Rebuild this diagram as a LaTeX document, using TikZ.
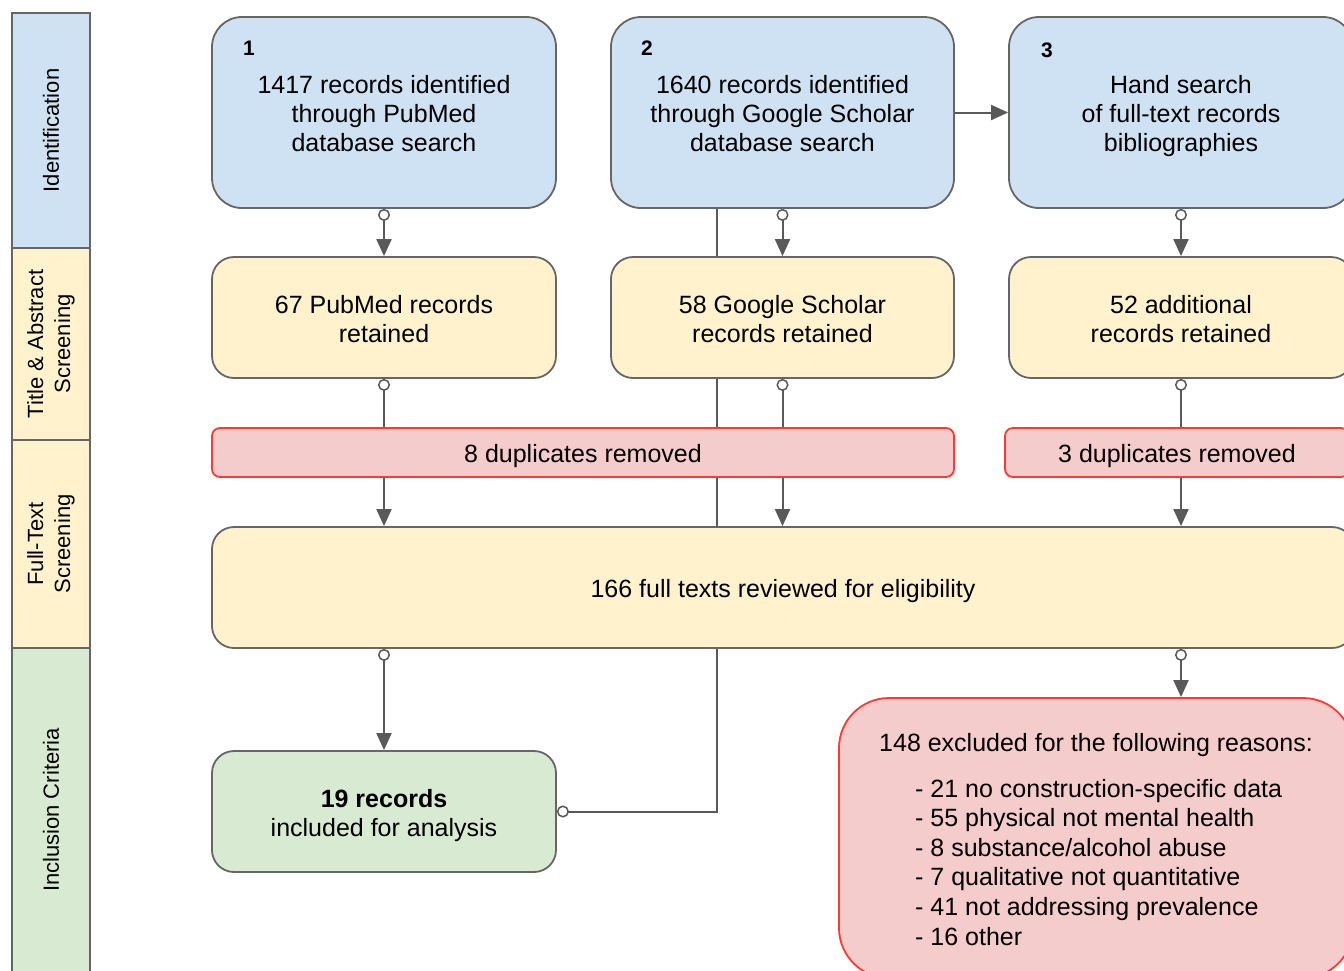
\documentclass[tikz,border=0pt]{standalone}
\usepackage{fontspec}
\setmainfont{Liberation Sans}
\usetikzlibrary{arrows.meta,backgrounds,calc}
\definecolor{cblue}{HTML}{CFE2F3}
\definecolor{cyel}{HTML}{FFF2CC}
\definecolor{cgreen}{HTML}{D9EAD3}
\definecolor{cred}{HTML}{F4CCCC}
\definecolor{credline}{HTML}{FF3B30}
\definecolor{cgray}{HTML}{666666}
\definecolor{cline}{HTML}{595959}
\newcommand{\boxtext}[2][c]{\smash{\raisebox{-10.5pt}{\begin{tabular}{@{}#1@{}}#2\end{tabular}}}}
\begin{document}
\begin{tikzpicture}[x=1pt,y=-1pt,
  box/.style={draw=cgray, line width=1.8pt, align=center, inner sep=0pt,
    font=\fontsize{25}{29}\selectfont, text=black},
  bluebox/.style={box, fill=cblue, rounded corners=30pt, minimum width=344pt, minimum height=191pt},
  yelbox/.style={box, fill=cyel, rounded corners=22pt, minimum width=344pt, minimum height=121pt},
  dupbox/.style={box, draw=credline, fill=cred, rounded corners=8pt, minimum height=49pt},
  num/.style={font=\bfseries\fontsize{21}{25}\selectfont, inner sep=0pt},
  side/.style={draw=cgray, line width=1.8pt, rotate=90, minimum height=78pt, align=center,
    inner sep=0pt, font=\fontsize{22}{27}\selectfont},
  conn/.style={draw=cline, line width=2pt,
    {Circle[open,length=12pt,width=12pt,line width=1.5pt,fill=white]}-{Triangle[length=17pt,width=15pt]}},
  arr/.style={draw=cline, line width=2pt, -{Triangle[length=17pt,width=15pt]}},
  link/.style={draw=cline, line width=2pt,
    {Circle[open,length=12pt,width=12pt,line width=1.5pt,fill=white]}-}
]
\clip (0,0) rectangle (1344,970);

% sidebar
\node[side, fill=cblue, minimum width=235pt] (s1) at (51,130.5) {Identification};
\node[side, fill=cyel, minimum width=192pt] (s2) at (51,344) {Title \& Abstract\\Screening};
\node[side, fill=cyel, minimum width=208pt] (s3) at (51,544) {Full-Text\\Screening};
\node[side, fill=cgreen, minimum width=324pt] (s4) at (51,810) {Inclusion Criteria};

% identification
\node[bluebox] (b1) at (384,112.5) {\boxtext{1417 records identified\\through PubMed\\database search}};
\node[bluebox, minimum width=343pt] (b2) at (782.5,112.5) {\boxtext{1640 records identified\\through Google Scholar\\database search}};
\node[bluebox] (b3) at (1181,112.5) {\boxtext{Hand search\\of full-text records\\bibliographies}};
\node[num] (n1) at (249,48) {1};
\node[num] (n2) at (647,48) {2};
\node[num] (n3) at (1047,50) {3};

% screening
\node[yelbox] (y1) at (384,317.5) {\boxtext{67 PubMed records\\retained}};
\node[yelbox, minimum width=343pt] (y2) at (782.5,317.5) {\boxtext{58 Google Scholar\\records retained}};
\node[yelbox] (y3) at (1181,317.5) {\boxtext{52 additional\\records retained}};

% duplicates
\node[dupbox, minimum width=742pt] (d1) at (583,452.5) {\boxtext{8 duplicates removed}};
\node[dupbox, minimum width=344pt] (d2) at (1177,452.5) {\boxtext{3 duplicates removed}};

% full text
\node[box, fill=cyel, rounded corners=22pt, minimum width=1142pt, minimum height=121pt] (ft) at (783,587.5) {\boxtext{166 full texts reviewed for eligibility}};

% inclusion
\node[box, fill=cgreen, rounded corners=22pt, minimum width=344pt, minimum height=121pt] (inc) at (384,811.5) {\boxtext{\textbf{19 records}\\included for analysis}};

% excluded
\node[box, draw=credline, fill=cred, rounded corners=50pt, minimum width=514pt, minimum height=280pt] (exc) at (1096,838)
{\fontsize{25}{29.6}\selectfont\boxtext[l]{148 excluded for the following reasons:\\[16pt]
\hspace*{36pt}- 21 no construction-specific data\\
\hspace*{36pt}- 55 physical not mental health\\
\hspace*{36pt}- 8 substance/alcohol abuse\\
\hspace*{36pt}- 7 qualitative not quantitative\\
\hspace*{36pt}- 41 not addressing prevalence\\
\hspace*{36pt}- 16 other}};

\coordinate (j) at (717,811.5);

\begin{pgfonlayer}{background}
\fill[white] (0,0) rectangle (1344,970);
\draw[conn] (b1.south) -- (y1.north);
\draw[conn] (b2.south) -- (y2.north);
\draw[conn] (b3.south) -- (y3.north);
\draw[arr] (b2.east) -- (b3.west);
\draw[conn] (y1.south) -- (y1.south |- ft.north);
\draw[conn] (y2.south) -- (y2.south |- ft.north);
\draw[conn] (y3.south) -- (y3.south |- ft.north);
\draw[conn] (ft.south -| inc.north) -- (inc.north);
\draw[conn] (ft.south -| y3.south) -- (y3.south |- exc.north);
\draw[link] (inc.east) -- (j) -- (j |- b2.south);
\end{pgfonlayer}
\end{tikzpicture}
\end{document}
